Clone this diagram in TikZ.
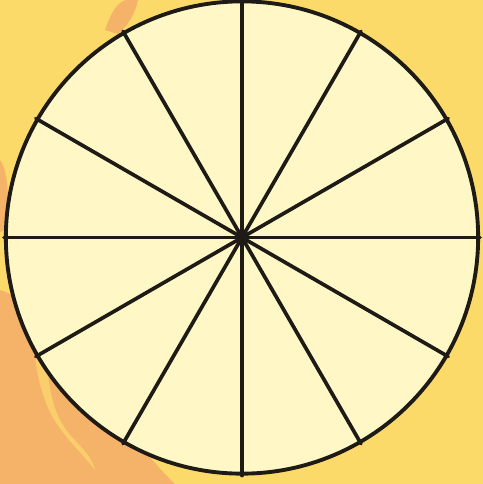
\documentclass[tikz,border=0pt]{standalone}
\usetikzlibrary{backgrounds}
\definecolor{fondo}{HTML}{FCDA6A}
\definecolor{mancha}{HTML}{F5B36A}
\definecolor{crema}{HTML}{FFF8C6}
\definecolor{trazo}{HTML}{1E1A16}

\begin{document}
\begin{tikzpicture}[x=0.01cm, y=-0.01cm,
      rueda/.style={circle, draw=trazo, fill=crema, line width=1.1pt,
                    minimum size=4.72cm, inner sep=0pt},
      radio/.style={draw=trazo, line width=1.05pt, line cap=round}]
    % fondo y manchas
    \fill[fondo] (0,0) rectangle (483,484);
    \useasboundingbox (0,0) rectangle (483,484);
    \fill[mancha] (0,290) .. controls (30,300) and (60,330) .. (90,380)
      .. controls (120,420) and (150,460) .. (175,484) -- (0,484) -- cycle;
    \fill[fondo!70!mancha] (40,330) .. controls (50,360) and (45,390) .. (60,420)
      .. controls (70,440) and (90,450) .. (95,470) .. controls (80,450) and (55,430) .. (45,400)
      .. controls (38,380) and (30,350) .. cycle;
    \fill[mancha] (105,30) .. controls (112,10) and (118,2) .. (126,0)
      -- (138,0) .. controls (136,12) and (128,26) .. (118,34) -- cycle;
    \fill[mancha] (0,160) .. controls (8,170) and (10,200) .. (6,230) -- (0,232) -- cycle;
    % rueda de doce sectores
    \node[rueda] (disco) at (242,237.5) {};
    \coordinate (c) at (disco.center);
    \foreach \a in {0,30,...,330}
      \draw[radio] (c) -- (disco.\a);
    \fill[trazo] (c) circle (0.05cm);
  \end{tikzpicture}
\end{document}
